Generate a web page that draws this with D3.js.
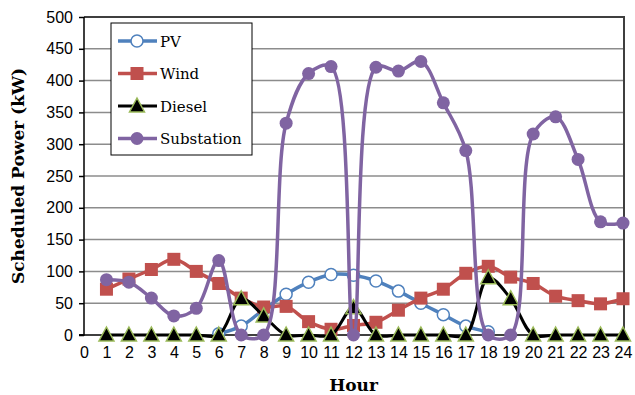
<!DOCTYPE html>
<html>
<head>
<meta charset="utf-8">
<script src="https://cdn.jsdelivr.net/npm/d3@7"></script>
<style>
  body { margin: 0; background: #fff; }
  svg { display: block; }
</style>
</head>
<body>
<svg width="635" height="395"></svg>
<script>
(function(){

	var pvHours = [6, 7, 8, 9, 10, 11, 12, 13, 14, 15, 16, 17, 18];
	var pvValues = [2, 14, 40, 64, 83, 95, 94, 85, 69, 50, 32, 14, 5];

	var hours = d3.range(1, 25);
	var windValues = [72, 88, 103, 119, 100, 81, 58, 44, 45, 21, 9, 15, 20, 39, 58, 72, 97, 108, 91, 81, 61, 54, 49, 57];
	var dieselValues = [0, 0, 0, 0, 0, 0, 57, 30, 0, 0, 0, 43, 0, 0, 0, 0, 0, 90, 57, 0, 0, 0, 0, 0];
	var substationValues = [87, 83, 58, 30, 42, 117, 0, 0, 333, 411, 422, 0, 421, 415, 430, 365, 290, 0, 0, 316, 343, 276, 178, 176];

	var xTicks = d3.range(0, 25);
	var yTicks = [0, 50, 100, 150, 200, 250, 300, 350, 400, 450, 500];

	var svg = d3.select("svg"),
		margin = {top: 17, right: 11, bottom: 60, left: 84},
		width = +svg.attr("width") - margin.left - margin.right,
		height = +svg.attr("height") - margin.top - margin.bottom;

	var g = svg.append("g")
		.attr("transform", "translate(" + margin.left + "," + margin.top + ")");

	var x = d3.scaleLinear().domain([0, 24]).range([0, width - 1]);
	var y = d3.scaleLinear().domain([0, 500]).range([height, 0]);

	// gridlines
	g.append("g")
		.selectAll("line")
		.data(yTicks.slice(1))
		.enter().append("line")
			.attr("x1", 0)
			.attr("x2", width)
			.attr("y1", function(d){ return y(d); })
			.attr("y2", function(d){ return y(d); })
			.attr("stroke", "#8c8c8c")
			.attr("stroke-width", 1.5);

	// top and right border
	g.append("path")
		.attr("d", "M0," + y(500) + "H" + width + "V" + height)
		.attr("fill", "none")
		.attr("stroke", "#3f3f3f")
		.attr("stroke-width", 2);

	// y axis
	var yAxis = g.append("g")
		.call(d3.axisLeft(y).tickValues(yTicks).tickSize(5).tickPadding(6));
	yAxis.select(".domain").attr("stroke", "#000").attr("stroke-width", 1.5).attr("d", "M-5," + height + "H0V0");
	yAxis.selectAll(".tick line").attr("stroke", "#000").attr("stroke-width", 1.5);
	yAxis.selectAll("text")
		.style("font-family", "'Liberation Sans', Arial, sans-serif")
		.style("font-size", "16px")
		.attr("fill", "#000");

	// x axis
	var xAxis = g.append("g")
		.attr("transform", "translate(0," + height + ")")
		.call(d3.axisBottom(x).tickValues(xTicks).tickSize(0).tickPadding(12));
	xAxis.select(".domain").remove();
	xAxis.selectAll("text")
		.style("font-family", "'Liberation Sans', Arial, sans-serif")
		.style("font-size", "16px")
		.attr("fill", "#000");

	var line = d3.line()
		.x(function(d){ return x(d[0]); })
		.y(function(d){ return y(d[1]); })
		.curve(d3.curveCatmullRom.alpha(0.5));

	function pairs(xs, ys){
		return xs.map(function(h, i){ return [h, ys[i]]; });
	}

	var series = [
		{name: "PV", data: pairs(pvHours, pvValues), color: "#4f81bd", width: 3.5, marker: "pv"},
		{name: "Wind", data: pairs(hours, windValues), color: "#c0504d", width: 3.5, marker: "wind"},
		{name: "Diesel", data: pairs(hours, dieselValues), color: "#000000", width: 3, marker: "diesel"},
		{name: "Substation", data: pairs(hours, substationValues), color: "#8064a2", width: 3.5, marker: "sub"}
	];

	function drawMarker(sel, type){
		if(type === "pv"){
			sel.append("circle").attr("r", 6)
				.attr("fill", "#fff").attr("stroke", "#4f81bd").attr("stroke-width", 1.5);
		} else if(type === "wind"){
			sel.append("rect").attr("x", -6.5).attr("y", -6.5)
				.attr("width", 13).attr("height", 13).attr("fill", "#c0504d");
		} else if(type === "diesel"){
			sel.append("path").attr("d", "M0,-8L7.5,6L-7.5,6Z")
				.attr("fill", "#000").attr("stroke", "#9bbb59").attr("stroke-width", 1.5);
		} else {
			sel.append("circle").attr("r", 6.5).attr("fill", "#8064a2");
		}
	}

	series.forEach(function(s){
		var sg = g.append("g");
		sg.append("path")
			.datum(s.data)
			.attr("d", line)
			.attr("fill", "none")
			.attr("stroke", s.color)
			.attr("stroke-width", s.width)
			.attr("stroke-linejoin", "round");
		sg.selectAll(".m")
			.data(s.data)
			.enter().append("g")
				.attr("class", "m")
				.attr("transform", function(d){ return "translate(" + x(d[0]) + "," + y(d[1]) + ")"; })
				.each(function(){ drawMarker(d3.select(this), s.marker); });
	});

	// x axis line on top, like the reference
	g.append("line")
		.attr("x1", -5).attr("x2", width)
		.attr("y1", height).attr("y2", height)
		.attr("stroke", "#000").attr("stroke-width", 1.5)
		.lower();

	// legend
	var legend = svg.append("g").attr("transform", "translate(111,23)");
	legend.append("rect")
		.attr("width", 141).attr("height", 132)
		.attr("fill", "#fff").attr("stroke", "#000").attr("stroke-width", 1);
	series.forEach(function(s, i){
		var ly = 18 + i * 32.5;
		var lg = legend.append("g").attr("transform", "translate(0," + ly + ")");
		lg.append("line")
			.attr("x1", 7).attr("x2", 46)
			.attr("stroke", s.color).attr("stroke-width", s.width);
		var mg = lg.append("g").attr("transform", "translate(26,0)");
		drawMarker(mg, s.marker);
		lg.append("text")
			.attr("x", 49).attr("y", 5.5)
			.text(s.name)
			.style("font-family", "'DejaVu Serif', serif")
			.style("font-size", "15px")
			.attr("fill", "#000");
	});

	// axis titles
	svg.append("text")
		.text("Hour")
		.attr("x", margin.left + x(12))
		.attr("y", 391)
		.attr("text-anchor", "middle")
		.style("font-family", "'DejaVu Serif', serif")
		.style("font-weight", "bold")
		.style("font-size", "17px");

	svg.append("text")
		.text("Scheduled Power (kW)")
		.attr("transform", "translate(24," + (margin.top + height / 2) + ") rotate(-90)")
		.attr("text-anchor", "middle")
		.style("font-family", "'DejaVu Serif', serif")
		.style("font-weight", "bold")
		.style("font-size", "17px");

})();
</script>
</body>
</html>
